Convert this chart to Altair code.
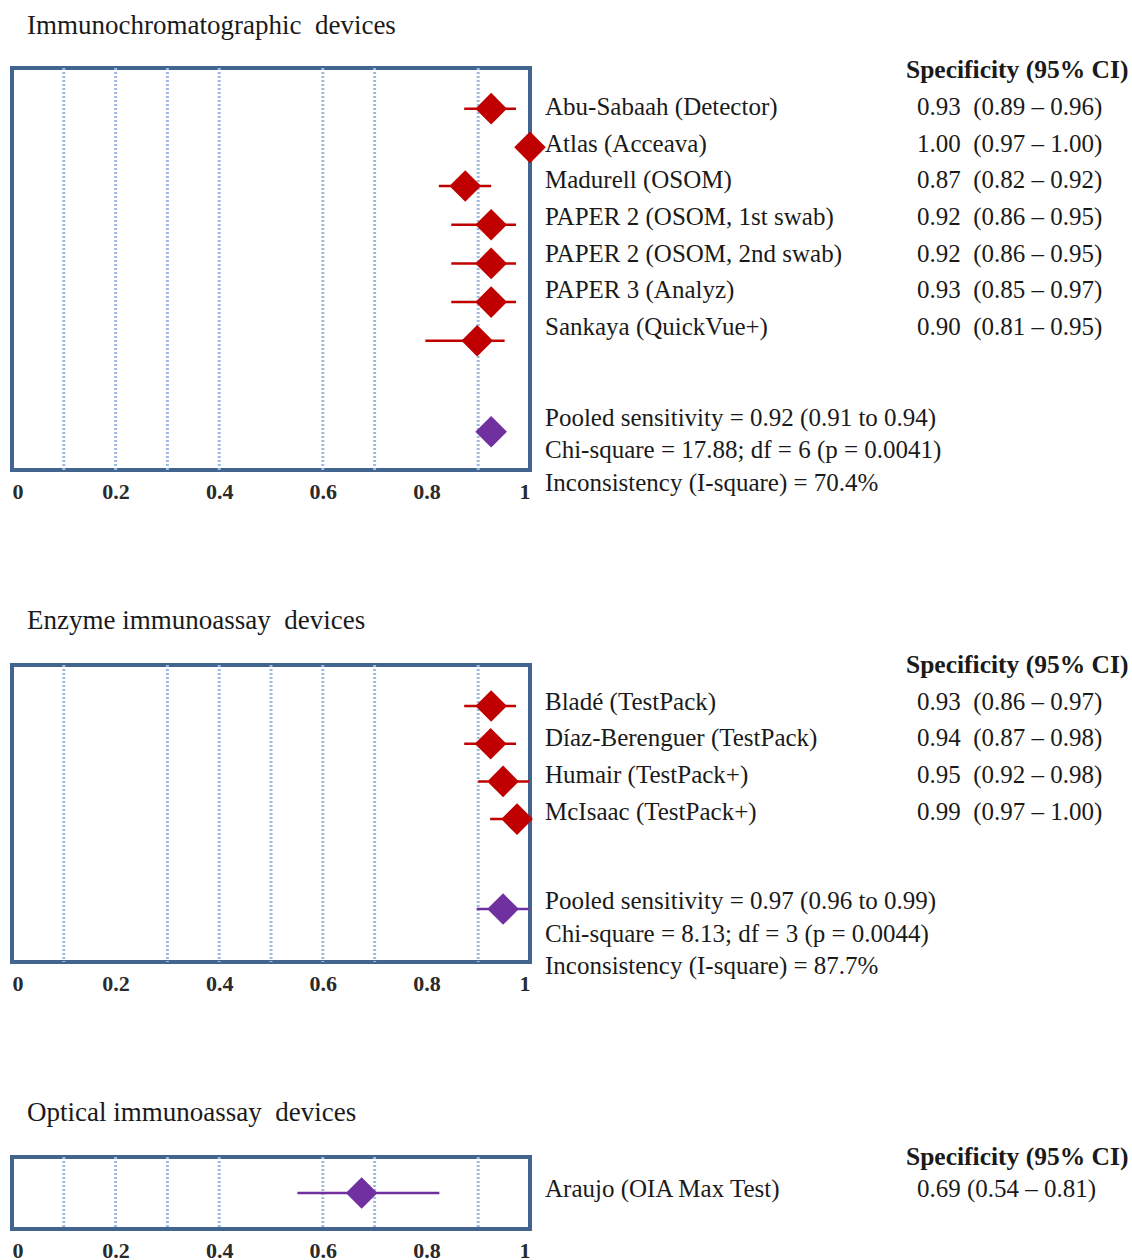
import altair as alt
import pandas as pd

FONT = "Liberation Serif"
RED = "#c00000"
PURPLE = "#7030a0"
FRAME = "#41658f"
GRIDC = "#9dbbe0"
TXT = "#1a1a1a"
NB = "\u00a0"

# ---------------- data ----------------
ic_names = ["Abu-Sabaah (Detector)", "Atlas (Acceava)", "Madurell (OSOM)",
            "PAPER 2 (OSOM, 1st swab)", "PAPER 2 (OSOM, 2nd swab)",
            "PAPER 3 (Analyz)", "Sankaya (QuickVue+)"]
ic_vals = ["0.93  (0.89 – 0.96)", "1.00  (0.97 – 1.00)", "0.87  (0.82 – 0.92)",
           "0.92  (0.86 – 0.95)", "0.92  (0.86 – 0.95)", "0.93  (0.85 – 0.97)",
           "0.90  (0.81 – 0.95)"]
ic_est = [0.925, 1.00, 0.875, 0.925, 0.925, 0.925, 0.898]
ic_lo = [0.873, 0.985, 0.824, 0.848, 0.848, 0.848, 0.798]
ic_hi = [0.973, 1.00, 0.925, 0.973, 0.973, 0.973, 0.951]
ic_pooled = (0.925, 0.91, 0.94)
ic_stats = ["Pooled sensitivity = 0.92 (0.91 to 0.94)",
            "Chi-square = 17.88; df = 6 (p = 0.0041)",
            "Inconsistency (I-square) = 70.4%"]
ic_grid = [0.1, 0.2, 0.3, 0.4, 0.6, 0.7, 0.9]

eia_names = ["Bladé (TestPack)", "Díaz-Berenguer (TestPack)",
             "Humair (TestPack+)", "McIsaac (TestPack+)"]
eia_vals = ["0.93  (0.86 – 0.97)", "0.94  (0.87 – 0.98)",
            "0.95  (0.92 – 0.98)", "0.99  (0.97 – 1.00)"]
eia_est = [0.925, 0.924, 0.948, 0.975]
eia_lo = [0.873, 0.873, 0.900, 0.923]
eia_hi = [0.973, 0.973, 0.998, 0.998]
eia_pooled = (0.948, 0.897, 0.998)
eia_stats = ["Pooled sensitivity = 0.97 (0.96 to 0.99)",
             "Chi-square = 8.13; df = 3 (p = 0.0044)",
             "Inconsistency (I-square) = 87.7%"]
eia_grid = [0.1, 0.3, 0.4, 0.5, 0.6, 0.7, 0.9]

oia_names = ["Araujo (OIA Max Test)"]
oia_vals = ["0.69 (0.54 – 0.81)"]
oia_est = [0.675]
oia_lo = [0.551]
oia_hi = [0.825]
oia_grid = [0.1, 0.2, 0.3, 0.4, 0.6, 0.7, 0.9]

header = "Specificity (95% CI)"
x_ticks = [0, 0.2, 0.4, 0.6, 0.8, 1]


def panel(title, names, vals, est, lo, hi, kinds, grid, height,
          y_dom, t_dom, pooled_row=None, pooled=None, stats=None, stat_rows=None):
    rows = list(range(1, len(est) + 1))
    m_est, m_lo, m_hi, m_row, m_kind = list(est), list(lo), list(hi), rows[:], list(kinds)
    if pooled is not None:
        m_est.append(pooled[0]); m_lo.append(pooled[1]); m_hi.append(pooled[2])
        m_row.append(pooled_row); m_kind.append("summary")
    mdf = pd.DataFrame({"row": m_row, "est": m_est, "lo": m_lo, "hi": m_hi, "kind": m_kind})
    gdf = pd.DataFrame({"g": grid})

    xs = alt.Scale(domain=[0, 1], nice=False, zero=False, padding=0)
    xaxis = alt.Axis(values=x_ticks, format="~g", labelFlush=True, domain=False,
                     ticks=False, grid=False, labelPadding=11, labelFont=FONT,
                     labelFontSize=22, labelFontWeight="bold", labelColor="#2a2a2a",
                     title=None)
    ys = alt.Scale(domain=y_dom, reverse=True, nice=False, zero=False)
    col = alt.Color("kind:N", scale=alt.Scale(domain=["individual", "summary"],
                                              range=[RED, PURPLE]), legend=None)

    grid_l = alt.Chart(gdf).mark_rule(color=GRIDC, strokeWidth=3, strokeDash=[2, 2]).encode(
        x=alt.X("g:Q", scale=xs, axis=xaxis))
    ci_l = alt.Chart(mdf).mark_rule(strokeWidth=2.5).encode(
        x=alt.X("lo:Q", scale=xs, axis=xaxis), x2="hi:Q",
        y=alt.Y("row:Q", scale=ys, axis=None), color=col)
    dia_l = alt.Chart(mdf).mark_point(shape="diamond", filled=True, size=1000,
                                      opacity=1, strokeWidth=0).encode(
        x=alt.X("est:Q", scale=xs, axis=xaxis),
        y=alt.Y("row:Q", scale=ys, axis=None), color=col)
    marks = alt.layer(grid_l, ci_l, dia_l)

    ts = alt.Scale(domain=t_dom, reverse=True, nice=False, zero=False)
    tdf = pd.DataFrame({"trow": rows, "name": names,
                        "val": [v.replace("  ", NB + NB) for v in vals]})
    hdf = pd.DataFrame({"trow": [0], "t": [header]})
    tstyle = dict(font=FONT, fontSize=25, color=TXT, baseline="middle", align="left")
    name_l = alt.Chart(tdf).mark_text(**tstyle).encode(
        x=alt.value(533), y=alt.Y("trow:Q", scale=ts, axis=None), text="name:N")
    val_l = alt.Chart(tdf).mark_text(**tstyle).encode(
        x=alt.value(905), y=alt.Y("trow:Q", scale=ts, axis=None), text="val:N")
    head_l = alt.Chart(hdf).mark_text(font=FONT, fontSize=25.5, fontWeight="bold",
                                      color=TXT, baseline="middle", align="left").encode(
        x=alt.value(894), y=alt.Y("trow:Q", scale=ts, axis=None), text="t:N")
    texts = [name_l, val_l, head_l]
    if stats is not None:
        sdf = pd.DataFrame({"trow": stat_rows, "t": stats})
        texts.append(alt.Chart(sdf).mark_text(**tstyle).encode(
            x=alt.value(533), y=alt.Y("trow:Q", scale=ts, axis=None), text="t:N"))
    tlayer = alt.layer(*texts)

    return alt.layer(marks, tlayer).resolve_scale(y="independent").properties(
        width=518, height=height,
        title=alt.TitleParams(title, anchor="start", frame="group", dx=15, offset=18,
                              font=FONT, fontSize=27, fontWeight="normal", color=TXT))


p1 = panel("Immunochromatographic" + NB + NB + "devices", ic_names, ic_vals, ic_est, ic_lo, ic_hi,
           ["individual"] * 7, ic_grid, 402, [-0.05, 10.34], [-0.06, 10.89],
           pooled_row=9.35, pooled=ic_pooled, stats=ic_stats, stat_rows=[9.47, 10.35, 11.25])
p2 = panel("Enzyme immunoassay" + NB + NB + "devices", eia_names, eia_vals, eia_est, eia_lo, eia_hi,
           ["individual"] * 4, eia_grid, 297, [-0.088, 7.79], [0.0, 8.09],
           pooled_row=6.385, pooled=eia_pooled, stats=eia_stats, stat_rows=[6.43, 7.33, 8.2])
p3 = panel("Optical immunoassay" + NB + NB + "devices", oia_names, oia_vals, oia_est, oia_lo, oia_hi,
           ["summary"], oia_grid, 72, [0, 2], [0, 2.25])

chart = alt.vconcat(p1, p2, p3, spacing=101).configure_view(
    stroke=FRAME, strokeWidth=4).properties(
    padding={"left": 10, "top": 10, "right": 0, "bottom": 0},
    background="white")

chart.save("out.html", embed_options={"renderer": "svg", "actions": False})
